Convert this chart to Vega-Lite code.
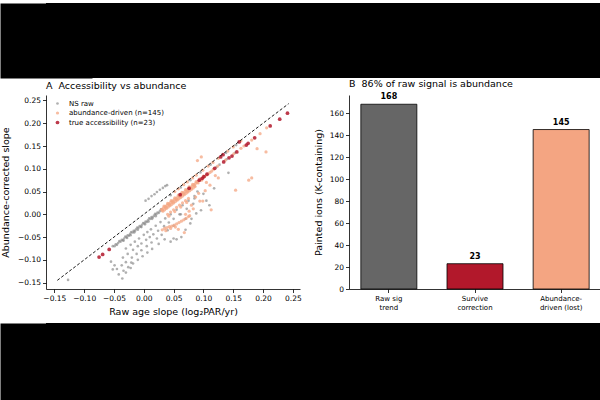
{
  "$schema": "https://vega.github.io/schema/vega-lite/v6.json",
  "padding": 0,
  "background": "white",
  "columns": 1,
  "align": "none",
  "spacing": 4,
  "resolve": {"scale": {"color": "independent", "size": "independent", "opacity": "independent", "y": "independent"}, "legend": {"color": "independent", "size": "independent", "opacity": "independent"}, "axis": {"y": "independent"}},
  "datasets": {
    "pts": [
      {"x":-0.052,"y":-0.070,"g":"ns"},{"x":-0.049,"y":-0.070,"g":"ns"},{"x":-0.047,"y":-0.066,"g":"ns"},{"x":-0.045,"y":-0.067,"g":"ns"},{"x":-0.043,"y":-0.063,"g":"ns"},{"x":-0.041,"y":-0.059,"g":"ns"},{"x":-0.039,"y":-0.060,"g":"ns"},{"x":-0.037,"y":-0.056,"g":"ns"},{"x":-0.035,"y":-0.057,"g":"ns"},{"x":-0.033,"y":-0.053,"g":"ns"},{"x":-0.031,"y":-0.049,"g":"ns"},{"x":-0.029,"y":-0.050,"g":"ns"},{"x":-0.027,"y":-0.046,"g":"ns"},{"x":-0.025,"y":-0.047,"g":"ns"},{"x":-0.023,"y":-0.043,"g":"ns"},{"x":-0.021,"y":-0.039,"g":"ns"},{"x":-0.019,"y":-0.040,"g":"ns"},{"x":-0.017,"y":-0.036,"g":"ns"},{"x":-0.015,"y":-0.037,"g":"ns"},{"x":-0.013,"y":-0.033,"g":"ns"},{"x":-0.011,"y":-0.029,"g":"ns"},{"x":-0.009,"y":-0.030,"g":"ns"},{"x":-0.007,"y":-0.026,"g":"ns"},{"x":-0.005,"y":-0.027,"g":"ns"},{"x":-0.003,"y":-0.023,"g":"ns"},{"x":-0.001,"y":-0.019,"g":"ns"},{"x":0.001,"y":-0.020,"g":"ns"},{"x":0.003,"y":-0.016,"g":"ns"},{"x":0.005,"y":-0.017,"g":"ns"},{"x":0.007,"y":-0.013,"g":"ns"},{"x":0.009,"y":-0.009,"g":"ns"},{"x":0.011,"y":-0.010,"g":"ns"},{"x":0.013,"y":-0.006,"g":"ns"},{"x":0.015,"y":-0.007,"g":"ns"},{"x":0.017,"y":-0.003,"g":"ns"},{"x":0.019,"y":0.001,"g":"ns"},{"x":0.021,"y":0.000,"g":"ns"},{"x":0.023,"y":0.004,"g":"ns"},{"x":0.025,"y":0.003,"g":"ns"},{"x":0.027,"y":0.007,"g":"ns"},{"x":0.029,"y":0.011,"g":"ns"},
      {"x":-0.034,"y":-0.058,"g":"ns"},{"x":-0.028,"y":-0.052,"g":"ns"},{"x":-0.022,"y":-0.046,"g":"ns"},{"x":-0.016,"y":-0.040,"g":"ns"},{"x":-0.010,"y":-0.034,"g":"ns"},{"x":-0.004,"y":-0.028,"g":"ns"},{"x":0.002,"y":-0.022,"g":"ns"},{"x":0.008,"y":-0.016,"g":"ns"},{"x":0.014,"y":-0.010,"g":"ns"},{"x":0.020,"y":-0.004,"g":"ns"},
      {"x":0.003,"y":0.030,"g":"ns"},{"x":0.008,"y":0.034,"g":"ns"},{"x":0.013,"y":0.040,"g":"ns"},{"x":0.018,"y":0.044,"g":"ns"},{"x":0.022,"y":0.049,"g":"ns"},{"x":0.027,"y":0.054,"g":"ns"},{"x":0.032,"y":0.058,"g":"ns"},{"x":0.036,"y":0.062,"g":"ns"},{"x":0.039,"y":0.064,"g":"ns"},
      {"x":0.045,"y":0.042,"g":"ns"},{"x":0.062,"y":0.059,"g":"ns"},{"x":0.078,"y":0.075,"g":"ns"},{"x":0.095,"y":0.092,"g":"ns"},{"x":0.112,"y":0.109,"g":"ns"},{"x":0.138,"y":0.135,"g":"ns"},{"x":0.155,"y":0.152,"g":"ns"},
      {"x":0.122,"y":0.104,"g":"ns"},{"x":0.127,"y":0.109,"g":"ns"},{"x":0.139,"y":0.121,"g":"ns"},{"x":0.153,"y":0.135,"g":"ns"},
      {"x":-0.030,"y":-0.075,"g":"ns"},{"x":-0.022,"y":-0.067,"g":"ns"},{"x":-0.015,"y":-0.060,"g":"ns"},{"x":-0.008,"y":-0.053,"g":"ns"},{"x":0.000,"y":-0.045,"g":"ns"},{"x":0.006,"y":-0.039,"g":"ns"},{"x":0.012,"y":-0.033,"g":"ns"},{"x":0.020,"y":-0.025,"g":"ns"},{"x":0.028,"y":-0.017,"g":"ns"},{"x":0.036,"y":-0.009,"g":"ns"},{"x":0.045,"y":0.000,"g":"ns"},{"x":0.055,"y":0.010,"g":"ns"},{"x":0.065,"y":0.020,"g":"ns"},{"x":0.075,"y":0.030,"g":"ns"},{"x":0.085,"y":0.040,"g":"ns"},
      {"x":-0.035,"y":-0.095,"g":"ns"},{"x":-0.027,"y":-0.087,"g":"ns"},{"x":-0.018,"y":-0.078,"g":"ns"},{"x":-0.010,"y":-0.070,"g":"ns"},{"x":-0.004,"y":-0.064,"g":"ns"},{"x":0.004,"y":-0.056,"g":"ns"},{"x":0.010,"y":-0.050,"g":"ns"},{"x":0.016,"y":-0.044,"g":"ns"},{"x":0.024,"y":-0.036,"g":"ns"},{"x":0.034,"y":-0.026,"g":"ns"},{"x":0.042,"y":-0.018,"g":"ns"},{"x":0.050,"y":-0.010,"g":"ns"},{"x":0.060,"y":0.000,"g":"ns"},{"x":0.072,"y":0.012,"g":"ns"},{"x":0.083,"y":0.023,"g":"ns"},
      {"x":-0.045,"y":-0.120,"g":"ns"},{"x":-0.037,"y":-0.112,"g":"ns"},{"x":-0.030,"y":-0.105,"g":"ns"},{"x":-0.020,"y":-0.095,"g":"ns"},{"x":-0.012,"y":-0.087,"g":"ns"},{"x":-0.004,"y":-0.079,"g":"ns"},{"x":0.005,"y":-0.070,"g":"ns"},{"x":0.013,"y":-0.062,"g":"ns"},{"x":0.022,"y":-0.053,"g":"ns"},{"x":0.030,"y":-0.045,"g":"ns"},{"x":0.040,"y":-0.035,"g":"ns"},{"x":0.050,"y":-0.025,"g":"ns"},
      {"x":-0.042,"y":-0.132,"g":"ns"},{"x":-0.034,"y":-0.124,"g":"ns"},{"x":-0.026,"y":-0.116,"g":"ns"},{"x":-0.018,"y":-0.108,"g":"ns"},{"x":-0.010,"y":-0.100,"g":"ns"},{"x":-0.002,"y":-0.092,"g":"ns"},{"x":0.006,"y":-0.084,"g":"ns"},{"x":0.014,"y":-0.076,"g":"ns"},{"x":0.025,"y":-0.065,"g":"ns"},{"x":0.035,"y":-0.055,"g":"ns"},
      {"x":-0.036,"y":-0.141,"g":"ns"},{"x":-0.030,"y":-0.128,"g":"ns"},{"x":-0.022,"y":-0.118,"g":"ns"},
      {"x":-0.127,"y":-0.144,"g":"ns"},{"x":-0.052,"y":-0.121,"g":"ns"},{"x":-0.049,"y":-0.112,"g":"ns"},{"x":-0.055,"y":-0.104,"g":"ns"},{"x":-0.021,"y":-0.106,"g":"ns"},
      {"x":0.142,"y":0.091,"g":"ns"},{"x":0.096,"y":0.009,"g":"ns"},{"x":0.105,"y":0.030,"g":"ns"},{"x":0.110,"y":0.020,"g":"ns"},{"x":0.088,"y":0.002,"g":"ns"},{"x":0.080,"y":-0.010,"g":"ns"},{"x":0.078,"y":-0.020,"g":"ns"},{"x":0.070,"y":-0.010,"g":"ns"},{"x":0.090,"y":0.050,"g":"ns"},{"x":0.100,"y":0.045,"g":"ns"},{"x":0.118,"y":0.057,"g":"ns"},{"x":0.085,"y":0.035,"g":"ns"},{"x":0.063,"y":-0.050,"g":"ns"},{"x":0.055,"y":-0.055,"g":"ns"},{"x":0.050,"y":-0.053,"g":"ns"},{"x":0.045,"y":-0.060,"g":"ns"},{"x":0.070,"y":-0.034,"g":"ns"},{"x":0.062,"y":0.000,"g":"ns"},

      {"x":0.030,"y":0.011,"g":"ab"},{"x":0.033,"y":0.014,"g":"ab"},{"x":0.036,"y":0.017,"g":"ab"},{"x":0.039,"y":0.020,"g":"ab"},{"x":0.042,"y":0.023,"g":"ab"},{"x":0.045,"y":0.026,"g":"ab"},{"x":0.048,"y":0.029,"g":"ab"},{"x":0.051,"y":0.032,"g":"ab"},{"x":0.054,"y":0.035,"g":"ab"},{"x":0.057,"y":0.038,"g":"ab"},{"x":0.060,"y":0.041,"g":"ab"},{"x":0.063,"y":0.044,"g":"ab"},{"x":0.066,"y":0.047,"g":"ab"},{"x":0.069,"y":0.050,"g":"ab"},{"x":0.072,"y":0.053,"g":"ab"},{"x":0.075,"y":0.056,"g":"ab"},{"x":0.078,"y":0.059,"g":"ab"},{"x":0.081,"y":0.062,"g":"ab"},{"x":0.084,"y":0.065,"g":"ab"},{"x":0.087,"y":0.068,"g":"ab"},{"x":0.090,"y":0.071,"g":"ab"},{"x":0.093,"y":0.074,"g":"ab"},{"x":0.096,"y":0.077,"g":"ab"},{"x":0.099,"y":0.080,"g":"ab"},{"x":0.102,"y":0.083,"g":"ab"},{"x":0.105,"y":0.086,"g":"ab"},{"x":0.108,"y":0.089,"g":"ab"},{"x":0.111,"y":0.092,"g":"ab"},{"x":0.114,"y":0.095,"g":"ab"},
      {"x":0.032,"y":0.007,"g":"ab"},{"x":0.035,"y":0.010,"g":"ab"},{"x":0.038,"y":0.013,"g":"ab"},{"x":0.041,"y":0.016,"g":"ab"},{"x":0.044,"y":0.019,"g":"ab"},{"x":0.047,"y":0.022,"g":"ab"},{"x":0.050,"y":0.025,"g":"ab"},{"x":0.053,"y":0.028,"g":"ab"},{"x":0.056,"y":0.031,"g":"ab"},{"x":0.059,"y":0.034,"g":"ab"},{"x":0.062,"y":0.037,"g":"ab"},{"x":0.065,"y":0.040,"g":"ab"},{"x":0.068,"y":0.043,"g":"ab"},{"x":0.071,"y":0.046,"g":"ab"},{"x":0.074,"y":0.049,"g":"ab"},{"x":0.077,"y":0.052,"g":"ab"},{"x":0.080,"y":0.055,"g":"ab"},{"x":0.083,"y":0.058,"g":"ab"},{"x":0.086,"y":0.061,"g":"ab"},
      {"x":0.031,"y":0.009,"g":"ab"},{"x":0.037,"y":0.015,"g":"ab"},{"x":0.043,"y":0.021,"g":"ab"},{"x":0.049,"y":0.027,"g":"ab"},{"x":0.055,"y":0.033,"g":"ab"},{"x":0.061,"y":0.039,"g":"ab"},{"x":0.067,"y":0.045,"g":"ab"},{"x":0.073,"y":0.051,"g":"ab"},{"x":0.079,"y":0.057,"g":"ab"},{"x":0.085,"y":0.063,"g":"ab"},{"x":0.091,"y":0.069,"g":"ab"},{"x":0.097,"y":0.075,"g":"ab"},
      {"x":0.034,"y":0.018,"g":"ab"},{"x":0.040,"y":0.024,"g":"ab"},{"x":0.046,"y":0.030,"g":"ab"},{"x":0.052,"y":0.036,"g":"ab"},{"x":0.058,"y":0.042,"g":"ab"},{"x":0.064,"y":0.048,"g":"ab"},{"x":0.070,"y":0.054,"g":"ab"},{"x":0.076,"y":0.060,"g":"ab"},{"x":0.082,"y":0.066,"g":"ab"},{"x":0.088,"y":0.072,"g":"ab"},{"x":0.094,"y":0.078,"g":"ab"},{"x":0.100,"y":0.084,"g":"ab"},
      {"x":0.117,"y":0.099,"g":"ab"},{"x":0.124,"y":0.106,"g":"ab"},{"x":0.137,"y":0.119,"g":"ab"},{"x":0.151,"y":0.133,"g":"ab"},{"x":0.163,"y":0.145,"g":"ab"},{"x":0.168,"y":0.150,"g":"ab"},{"x":0.181,"y":0.163,"g":"ab"},{"x":0.195,"y":0.177,"g":"ab"},{"x":0.206,"y":0.190,"g":"ab"},
      {"x":0.052,"y":0.050,"g":"ab"},{"x":0.058,"y":0.056,"g":"ab"},{"x":0.067,"y":0.065,"g":"ab"},{"x":0.073,"y":0.071,"g":"ab"},{"x":0.082,"y":0.080,"g":"ab"},{"x":0.088,"y":0.086,"g":"ab"},{"x":0.099,"y":0.097,"g":"ab"},{"x":0.108,"y":0.106,"g":"ab"},{"x":0.116,"y":0.114,"g":"ab"},{"x":0.125,"y":0.123,"g":"ab"},{"x":0.141,"y":0.139,"g":"ab"},{"x":0.150,"y":0.148,"g":"ab"},{"x":0.163,"y":0.161,"g":"ab"},
      {"x":0.031,"y":-0.034,"g":"ab"},{"x":0.035,"y":-0.031,"g":"ab"},{"x":0.039,"y":-0.029,"g":"ab"},{"x":0.043,"y":-0.027,"g":"ab"},{"x":0.047,"y":-0.026,"g":"ab"},{"x":0.051,"y":-0.024,"g":"ab"},{"x":0.055,"y":-0.021,"g":"ab"},{"x":0.059,"y":-0.018,"g":"ab"},{"x":0.063,"y":-0.015,"g":"ab"},{"x":0.067,"y":-0.012,"g":"ab"},{"x":0.071,"y":-0.009,"g":"ab"},{"x":0.075,"y":-0.005,"g":"ab"},{"x":0.077,"y":-0.003,"g":"ab"},{"x":0.037,"y":-0.036,"g":"ab"},{"x":0.045,"y":-0.031,"g":"ab"},{"x":0.053,"y":-0.028,"g":"ab"},
      {"x":0.040,"y":0.000,"g":"ab"},{"x":0.045,"y":0.005,"g":"ab"},{"x":0.050,"y":0.010,"g":"ab"},{"x":0.055,"y":0.015,"g":"ab"},{"x":0.060,"y":0.020,"g":"ab"},{"x":0.065,"y":0.025,"g":"ab"},{"x":0.070,"y":0.030,"g":"ab"},{"x":0.075,"y":0.035,"g":"ab"},{"x":0.042,"y":-0.004,"g":"ab"},{"x":0.052,"y":0.006,"g":"ab"},{"x":0.062,"y":0.016,"g":"ab"},{"x":0.072,"y":0.026,"g":"ab"},
      {"x":0.090,"y":0.118,"g":"ab"},{"x":0.0965,"y":0.126,"g":"ab"},{"x":0.190,"y":0.144,"g":"ab"},{"x":0.205,"y":0.137,"g":"ab"},{"x":0.154,"y":0.053,"g":"ab"},{"x":0.176,"y":0.075,"g":"ab"},{"x":0.181,"y":0.080,"g":"ab"},{"x":0.125,"y":0.080,"g":"ab"},{"x":0.111,"y":0.064,"g":"ab"},{"x":0.094,"y":0.029,"g":"ab"},{"x":0.113,"y":0.010,"g":"ab"},{"x":0.092,"y":0.046,"g":"ab"},{"x":0.058,"y":-0.033,"g":"ab"},{"x":0.068,"y":-0.040,"g":"ab"},{"x":0.099,"y":0.029,"g":"ab"},{"x":0.080,"y":0.020,"g":"ab"},{"x":0.120,"y":0.085,"g":"ab"},{"x":0.105,"y":0.070,"g":"ab"},{"x":0.076,"y":0.007,"g":"ab"},{"x":0.083,"y":0.012,"g":"ab"},{"x":0.070,"y":0.000,"g":"ab"},{"x":0.103,"y":0.052,"g":"ab"},{"x":0.087,"y":0.038,"g":"ab"},

      {"x":-0.075,"y":-0.094,"g":"ta"},{"x":-0.069,"y":-0.088,"g":"ta"},{"x":-0.058,"y":-0.077,"g":"ta"},{"x":0.061,"y":0.043,"g":"ta"},{"x":0.076,"y":0.057,"g":"ta"},{"x":0.093,"y":0.075,"g":"ta"},{"x":0.098,"y":0.079,"g":"ta"},{"x":0.101,"y":0.083,"g":"ta"},{"x":0.106,"y":0.088,"g":"ta"},{"x":0.119,"y":0.101,"g":"ta"},{"x":0.129,"y":0.126,"g":"ta"},{"x":0.133,"y":0.131,"g":"ta"},{"x":0.134,"y":0.115,"g":"ta"},{"x":0.143,"y":0.124,"g":"ta"},{"x":0.148,"y":0.128,"g":"ta"},{"x":0.156,"y":0.137,"g":"ta"},{"x":0.160,"y":0.159,"g":"ta"},{"x":0.172,"y":0.152,"g":"ta"},{"x":0.175,"y":0.156,"g":"ta"},{"x":0.186,"y":0.168,"g":"ta"},{"x":0.212,"y":0.194,"g":"ta"},{"x":0.228,"y":0.209,"g":"ta"},{"x":0.241,"y":0.222,"g":"ta"}
    ],
    "diag": [{"x":-0.145,"y":-0.145},{"x":0.243,"y":0.243}],
    "bars": [
      {"cat":"Raw sig|trend","n":168},
      {"cat":"Survive|correction","n":23},
      {"cat":"Abundance-|driven (lost)","n":145}
    ]
  },
  "concat": [
    {
      "columns": 1,
      "align": "none",
      "spacing": 0,
      "resolve": {"scale": {"color": "independent", "size": "independent", "opacity": "independent", "y": "independent"}, "legend": {"color": "independent", "size": "independent", "opacity": "independent"}, "axis": {"y": "independent"}},
      "concat": [
        {
          "width": 554, "height": 75,
          "data": {"values": [{"a": 1}]},
          "mark": {"type": "point", "opacity": 0},
          "encoding": {"y": {"datum": 0, "type": "quantitative", "axis": {"labels": false, "ticks": false, "title": null, "domainColor": "black", "domainWidth": 92, "domainCap": "butt"}}},
          "view": {"fill": "black", "stroke": null}
        },
        {
          "spacing": 11,
          "resolve": {"scale": {"color": "independent", "size": "independent", "opacity": "independent"}, "legend": {"color": "independent", "size": "independent", "opacity": "independent"}},
          "hconcat": [
            {
              "width": 254, "height": 194,
              "title": {"text": "A\u00a0\u00a0Accessibility vs abundance", "offset": 5, "frame": "group"},
              "encoding": {
                "x": {"type": "quantitative", "scale": {"domain": [-0.164, 0.262], "nice": false, "zero": false},
                      "axis": {"title": "Raw age slope (log₂PAR/yr)", "values": [-0.15,-0.1,-0.05,0,0.05,0.1,0.15,0.2,0.25], "format": ".2f", "titlePadding": 4}},
                "y": {"type": "quantitative", "scale": {"domain": [-0.164, 0.262], "nice": false, "zero": false},
                      "axis": {"title": "Abundance-corrected slope", "values": [-0.15,-0.1,-0.05,0,0.05,0.1,0.15,0.2,0.25], "format": ".2f", "titlePadding": 7}}
              },
              "layer": [
                {
                  "mark": {"type": "rule", "color": "#cccccc", "strokeWidth": 1.2},
                  "encoding": {"y": {"datum": 0}}
                },
                {
                  "mark": {"type": "rule", "color": "#999999", "strokeWidth": 0.8},
                  "encoding": {"x": {"datum": 0}}
                },
                {
                  "data": {"name": "pts"},
                  "mark": {"type": "point", "filled": true, "strokeWidth": 0},
                  "encoding": {
                    "x": {"field": "x"},
                    "y": {"field": "y"},
                    "color": {"field": "g", "type": "nominal", "scale": {"domain": ["ns","ab","ta"], "range": ["#858585","#f4a582","#b2182b"]},
                              "legend": {"title": null, "orient": "none", "legendX": 8, "legendY": 5, "labelFontSize": 7, "rowPadding": 1.5, "labelOffset": 8, "symbolStrokeWidth": 0,
                                         "labelExpr": "datum.label == 'ns' ? 'NS raw' : datum.label == 'ab' ? 'abundance-driven (n=145)' : 'true accessibility (n=23)'"}},
                    "size": {"field": "g", "type": "nominal", "scale": {"domain": ["ns","ab","ta"], "range": [7,14,20]}, "legend": null},
                    "opacity": {"field": "g", "type": "nominal", "scale": {"domain": ["ns","ab","ta"], "range": [0.65,0.85,0.95]}, "legend": null}
                  }
                },
                {
                  "data": {"name": "diag"},
                  "mark": {"type": "line", "color": "black", "strokeDash": [3, 2], "strokeWidth": 0.9},
                  "encoding": {
                    "x": {"field": "x"},
                    "y": {"field": "y"}
                  }
                }
              ]
            },
            {
              "width": 252, "height": 194,
              "title": {"text": "B\u00a0\u00a086% of raw signal is abundance", "offset": 5, "frame": "group"},
              "data": {"name": "bars"},
              "encoding": {
                "x": {"field": "cat", "type": "nominal", "sort": null,
                      "scale": {"paddingInner": 0.35, "paddingOuter": 0.1375},
                      "axis": {"title": null, "labelAngle": 0, "labelFontSize": 7, "labelExpr": "split(datum.label, '|')", "labelLineHeight": 8.5}},
                "y": {"field": "n", "type": "quantitative", "scale": {"domain": [0, 176.4], "nice": false},
                      "axis": {"title": "Painted ions (K-containing)", "values": [0,20,40,60,80,100,120,140,160], "titlePadding": 6}}
              },
              "layer": [
                {
                  "mark": {"type": "bar", "stroke": "black", "strokeWidth": 0.8},
                  "encoding": {
                    "color": {"field": "cat", "type": "nominal", "scale": {"domain": ["Raw sig|trend","Survive|correction","Abundance-|driven (lost)"], "range": ["#666666","#b2182b","#f4a582"]}, "legend": null}
                  }
                },
                {
                  "mark": {"type": "text", "dy": -3, "baseline": "bottom", "fontWeight": "bold", "fontSize": 8},
                  "encoding": {"text": {"field": "n", "type": "quantitative"}}
                }
              ]
            }
          ]
        }
      ]
    },
    {
      "width": 554, "height": 79,
      "data": {"values": [{"a": 1}]},
      "mark": {"type": "point", "opacity": 0},
      "encoding": {"y": {"datum": 0, "type": "quantitative", "axis": {"labels": false, "ticks": false, "title": null, "domainColor": "black", "domainWidth": 92, "domainCap": "butt"}}},
      "view": {"fill": "black", "stroke": null}
    }
  ],
  "config": {
    "font": "DejaVu Sans",
    "view": {"stroke": null},
    "axis": {"grid": false, "domainColor": "black", "tickColor": "black", "labelColor": "black", "titleColor": "black",
             "labelFontSize": 7.5, "titleFontSize": 9.5, "titleFontWeight": "normal", "tickSize": 3.5, "domainWidth": 0.8, "tickWidth": 0.8,
             "labelPadding": 2, "labelFont": "DejaVu Sans", "titleFont": "DejaVu Sans"},
    "title": {"font": "DejaVu Sans", "fontSize": 9.5, "fontWeight": "normal", "anchor": "start", "color": "black"},
    "legend": {"labelFont": "DejaVu Sans", "labelColor": "black"}
  }
}
